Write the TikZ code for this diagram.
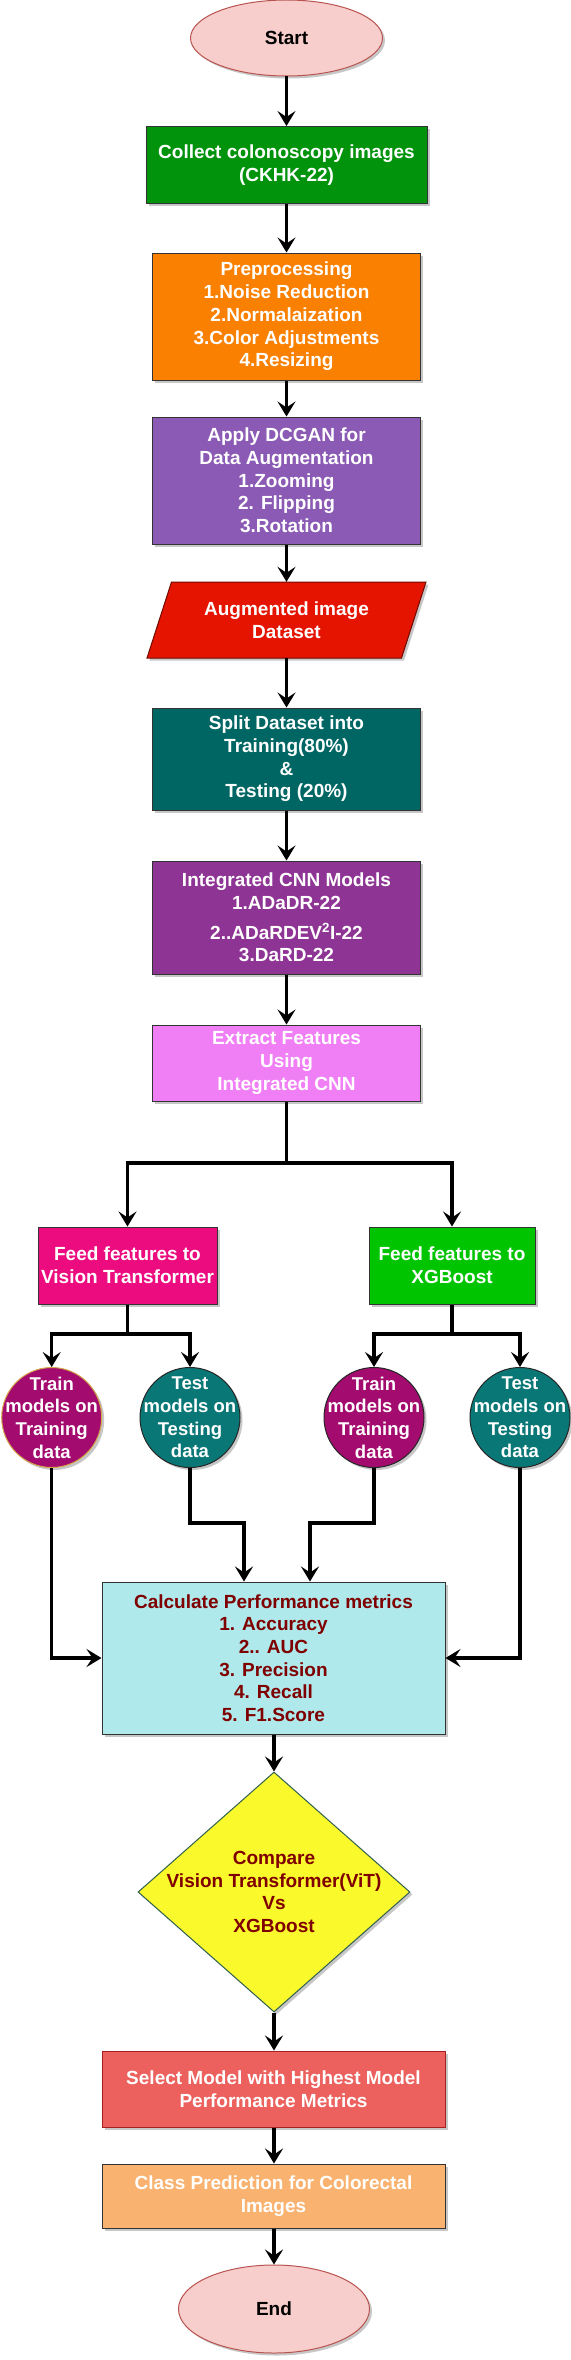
\documentclass[tikz,border=0pt]{standalone}
\usepackage{fontspec}
\setmainfont{Liberation Sans}
\usetikzlibrary{shapes.geometric,arrows.meta,shadows}
\definecolor{startfill}{HTML}{F8CECC}
\definecolor{startline}{HTML}{B85450}
\definecolor{collectfill}{HTML}{00930B}
\definecolor{prepfill}{HTML}{F98000}
\definecolor{dcganfill}{HTML}{8A5AB4}
\definecolor{augfill}{HTML}{E51400}
\definecolor{augline}{HTML}{6F0A00}
\definecolor{splitfill}{HTML}{006663}
\definecolor{icnnfill}{HTML}{8E3494}
\definecolor{extractfill}{HTML}{F07FF5}
\definecolor{vitfill}{HTML}{EC0C7F}
\definecolor{xgbfill}{HTML}{00C400}
\definecolor{trainfill}{HTML}{A30C6E}
\definecolor{testfill}{HTML}{0A7777}
\definecolor{goldline}{HTML}{D4A84A}
\definecolor{calcfill}{HTML}{AFE9EB}
\definecolor{cmpfill}{HTML}{F9F92B}
\definecolor{cmpline}{HTML}{2F5F4F}
\definecolor{selectfill}{HTML}{EC615E}
\definecolor{selectline}{HTML}{A52020}
\definecolor{classfill}{HTML}{F9B26F}
\definecolor{darkredtext}{HTML}{7F0000}
\begin{document}
\begin{tikzpicture}[x=1pt,y=-1pt,
  txt/.style={font=\fontsize{19}{22.7}\selectfont\bfseries, align=center, inner sep=0pt},
  shade/.style={drop shadow={shadow xshift=2.5pt,shadow yshift=-2.5pt,opacity=0.22,fill=black}},
  box/.style={txt, rectangle, line width=1pt, draw=black!80, text=white, shade},
  oval/.style={txt, ellipse, line width=1pt, fill=startfill, draw=startline, text=black, shade},
  disc/.style={circle, line width=1pt, draw=black!85, minimum size=100pt, inner sep=0pt, shade},
  ctext/.style={font=\fontsize{18.5}{22.6}\selectfont\bfseries, align=center, inner sep=0pt, text=white},
  ln/.style={line width=3.2pt, line join=miter},
  arr/.style={ln, -{Stealth[length=15pt,width=18pt,inset=6pt]}}
]
\useasboundingbox (0,0) rectangle (570,2360);

% top column
\node[oval, minimum width=192pt, minimum height=76pt] (start) at (286.5,38) {Start};
\node[box, fill=collectfill, minimum width=281pt, minimum height=77pt] (collect) at (286.5,165) {Collect colonoscopy images\\(CKHK-22)};
\node[box, fill=prepfill, minimum width=268.5pt, minimum height=127pt] (prep) at (286.5,316.5) {Preprocessing\\1.Noise Reduction\\2.Normalaization\\3.Color Adjustments\\4.Resizing};
\node[box, fill=dcganfill, minimum width=268.5pt, minimum height=127pt] (dcgan) at (286.5,480.5) {Apply DCGAN for\\Data Augmentation\\1.Zooming\\2. Flipping\\3.Rotation};
\path[fill=augfill, draw=augline, line width=1pt, shade] (147,658) -- (171.5,582) -- (426,582) -- (401.5,658) -- cycle;
\node[txt, text=white, minimum width=255pt, minimum height=76pt] (aug) at (286.5,620) {Augmented image\\Dataset};
\node[box, fill=splitfill, minimum width=268.5pt, minimum height=102pt] (split) at (286.5,759) {Split Dataset into\\Training(80\%)\\\&\\Testing (20\%)};
\node[box, fill=icnnfill, minimum width=268.5pt, minimum height=113pt] (icnn) at (286.5,917.5) {Integrated CNN Models\\1.ADaDR-22\\[7pt]2..ADaRDEV\textsuperscript{2}I-22\\3.DaRD-22};
\node[box, fill=extractfill, minimum width=268.5pt, minimum height=76pt] (extract) at (286.5,1063) {Extract Features\\Using\\Integrated CNN};

\draw[arr] (start) -- (collect);
\draw[arr] (collect) -- (prep);
\draw[arr] (prep) -- (dcgan);
\draw[arr] (dcgan) -- (aug);
\draw[arr] (aug) -- (split);
\draw[arr] (split) -- (icnn);
\draw[arr] (icnn) -- (extract);

% branches
\node[box, fill=vitfill, minimum width=179pt, minimum height=77pt] (feedvit) at (127.5,1265.5) {Feed features to\\Vision Transformer};
\node[box, fill=xgbfill, minimum width=166pt, minimum height=77pt] (feedxgb) at (452,1265.5) {Feed features to\\XGBoost};
\coordinate (bj) at (286.5,1163);
\draw[ln] (extract) -- (bj);
\draw[arr] (bj) -| (feedvit);
\draw[arr] (bj) -| (feedxgb);

\node[disc, fill=trainfill, draw=goldline] (train1) at (51.7,1417.5) {};
\node[disc, fill=testfill] (test1) at (190,1417.5) {};
\node[disc, fill=trainfill] (train2) at (374,1417.5) {};
\node[disc, fill=testfill] (test2) at (520,1417.5) {};
\node[ctext] (train1t) at (train1) {Train\\models on\\Training\\data};
\node[ctext] (test1t) at (test1) {Test\\models on\\Testing\\data};
\node[ctext] (train2t) at (train2) {Train\\models on\\Training\\data};
\node[ctext] (test2t) at (test2) {Test\\models on\\Testing\\data};

\coordinate (vj) at (127.5,1334);
\coordinate (xj) at (452,1334);
\draw[ln] (feedvit) -- (vj);
\draw[arr] (vj) -| (train1);
\draw[arr] (vj) -| (test1);
\draw[ln] (feedxgb) -- (xj);
\draw[arr] (xj) -| (train2);
\draw[arr] (xj) -| (test2);

% metrics
\node[box, fill=calcfill, text=darkredtext, minimum width=343pt, minimum height=152pt] (calc) at (273.5,1658) {Calculate Performance metrics\\1. Accuracy\\2.. AUC\\3. Precision\\4. Recall\\5. F1.Score};
\coordinate (t1k) at (244,1523);
\coordinate (t2k) at (310,1523);
\draw[arr] (train1) |- (calc);
\draw[arr] (test2) |- (calc);
\draw[arr] (test1) |- (t1k) -- (t1k |- calc.north);
\draw[arr] (train2) |- (t2k) -- (t2k |- calc.north);

% lower column
\node[diamond, fill=cmpfill, draw=cmpline, line width=1pt, minimum width=272pt, minimum height=240pt, inner sep=0pt, shade] (cmp) at (274,1892) {};
\node[txt, text=darkredtext] (cmpt) at (cmp) {Compare\\Vision Transformer(ViT)\\Vs\\XGBoost};
\node[box, fill=selectfill, draw=selectline, minimum width=343pt, minimum height=76pt] (select) at (273.5,2089) {Select Model with Highest Model\\Performance Metrics};
\node[box, fill=classfill, minimum width=343pt, minimum height=64pt] (class) at (273.5,2196) {Class Prediction for Colorectal\\Images};
\node[oval, minimum width=191pt, minimum height=88pt] (end) at (274,2309) {End};

\draw[arr] (calc.south -| cmp.north) -- (cmp);
\draw[arr] (cmp) -- (select.north -| cmp.south);
\draw[arr] (select.south -| cmp.south) -- (class.north -| cmp.south);
\draw[arr] (class.south -| end.north) -- (end);
\end{tikzpicture}
\end{document}
